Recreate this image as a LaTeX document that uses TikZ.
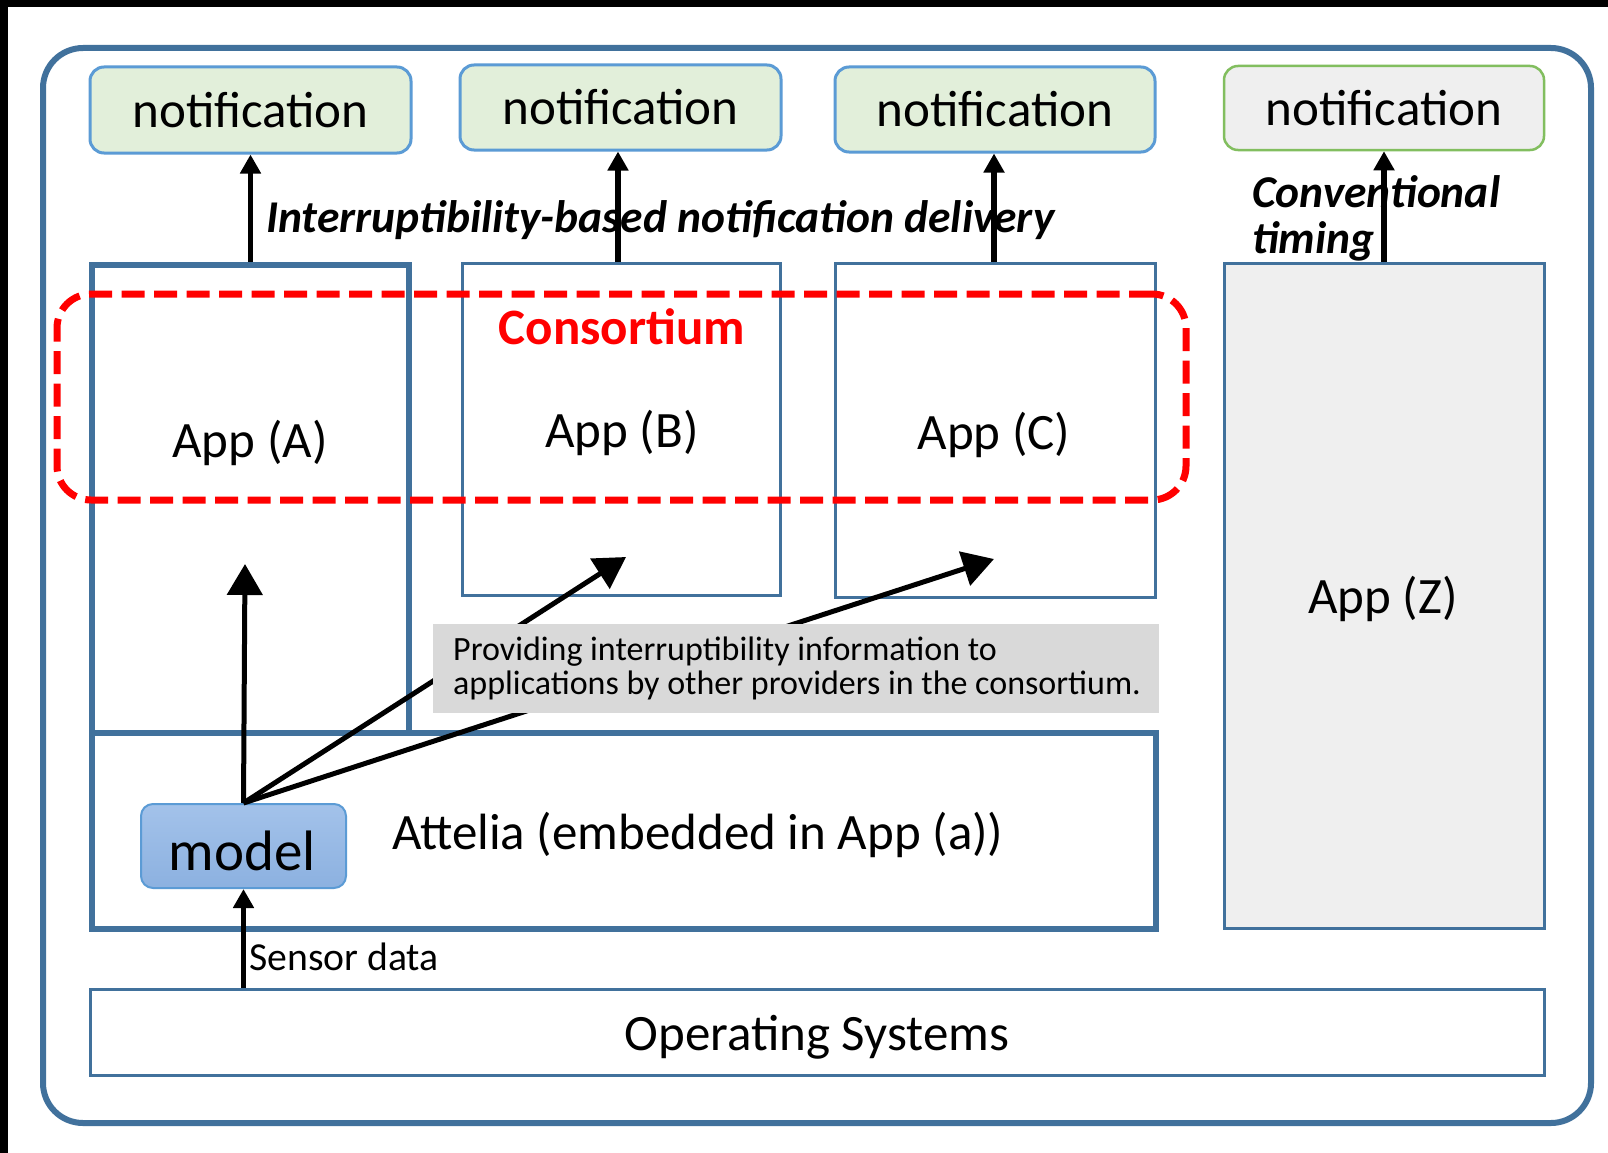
\documentclass[tikz,border=0pt]{standalone}
\usepackage{fontspec}
\setmainfont{Carlito}
\usetikzlibrary{arrows.meta}
\definecolor{frameblue}{RGB}{65,113,156}
\definecolor{lightblue}{RGB}{91,155,213}
\definecolor{notifgreen}{RGB}{226,239,218}
\definecolor{lgray}{RGB}{239,239,239}
\definecolor{greenline}{RGB}{130,190,95}
\definecolor{labelgray}{RGB}{217,217,217}
\definecolor{modeltop}{RGB}{163,194,234}
\definecolor{modelbot}{RGB}{140,177,224}
\begin{document}
\begin{tikzpicture}[x=1pt,y=-1pt,
  big/.style={font=\fontsize{51}{60}\selectfont},
  thickbox/.style={draw=frameblue,line width=6pt,inner sep=0pt},
  thinbox/.style={draw=frameblue,line width=3pt,inner sep=0pt},
  notif/.style={draw=lightblue,fill=notifgreen,line width=3pt,rounded corners=14pt,inner sep=0pt,big},
  notifgray/.style={draw=greenline,fill=lgray,line width=2.5pt,rounded corners=14pt,inner sep=0pt,big},
  smallarrow/.style={line width=5.5pt,-{Triangle[length=19pt,width=20pt]}},
  bigarrow/.style={line width=5pt,-{Triangle[length=31pt,width=35pt]}},
  bilabel/.style={font=\fontsize{45.5}{46}\selectfont\bfseries\itshape,inner sep=0pt}]
\useasboundingbox (0,0) rectangle (1608,1153);
\fill[white] (0,0) rectangle (1608,1153);
\fill[black] (0,0) rectangle (1608,7);
\fill[black] (0,0) rectangle (8,1153);
% outer frame
\node[draw=frameblue,line width=6pt,rounded corners=40pt,minimum width=1548pt,minimum height=1075pt,inner sep=0pt] (outer) at (817,585.5) {};
% notifications
\node[notif,minimum width=321pt,minimum height=86pt] (n1) at (250.5,110) {notification};
\node[notif,minimum width=321pt,minimum height=85pt] (n2) at (620.5,107.5) {notification};
\node[notif,minimum width=320pt,minimum height=85pt] (n3) at (995,109.5) {notification};
\node[notifgray,minimum width=320pt,minimum height=84pt] (n4) at (1384,108) {notification};
% apps
\node[thickbox,minimum width=317pt,minimum height=468pt] (appA) at (250.5,499) {};
\node[thinbox,minimum width=318pt,minimum height=332pt] (appB) at (621.5,429.5) {};
\node[thinbox,minimum width=320pt,minimum height=334pt] (appC) at (995,430) {};
\node[thinbox,fill=lgray,minimum width=320pt,minimum height=665pt] (appZ) at (1384,595.5) {};
\node[thickbox,minimum width=1064pt,minimum height=196pt] (att) at (624,831) {};
\node[thinbox,minimum width=1454pt,minimum height=86pt] (os) at (817,1032) {};
% texts in apps
\node[big,inner sep=0pt] (tA) at (250,443) {App (A)};
\node[big,inner sep=0pt] (tB) at (622,433) {App (B)};
\node[big,inner sep=0pt] (tC) at (994,435) {App (C)};
\node[big,inner sep=0pt] (tZ) at (1383,599) {App (Z)};
\node[big,inner sep=0pt,anchor=west] (tatt) at (392,835) {Attelia (embedded in App (a))};
\node[big,inner sep=0pt] (tos) at (817,1037) {Operating Systems};
% model
\node[draw=lightblue,line width=2pt,rounded corners=12pt,top color=modeltop,bottom color=modelbot,minimum width=205pt,minimum height=84pt,inner sep=0pt,font=\fontsize{57}{64}\selectfont] (model) at (243.5,846) {};
\node[inner sep=0pt,font=\fontsize{57}{64}\selectfont] (tmodel) at (242,851) {model};
% consortium
\node[draw=red,line width=7pt,dash pattern=on 23pt off 9.5pt,rounded corners=34pt,minimum width=1129pt,minimum height=206pt,inner sep=0pt] (cons) at (621.5,397) {};
\node[font=\fontsize{51}{60}\selectfont\bfseries,text=red,inner sep=0pt] (tcons) at (622,327) {Consortium};
% notification arrows
\draw[smallarrow] (appA.north) -- (n1.south);
\draw[smallarrow] (appB.north -| 618,0) -- (n2.south -| 618,0);
\draw[smallarrow] (appC.north -| 994,0) -- (n3.south -| 994,0);
\draw[smallarrow] (appZ.north) -- (n4.south);
% model arrows
\coordinate (endA) at (245,564);
\coordinate (endB) at (626,557);
\coordinate (endC) at (994,559);
\draw[bigarrow] (model.north) -- (endA);
\draw[bigarrow] (model.north) -- (endB);
\draw[bigarrow] (model.north) -- (endC);
% gray label
\node[fill=labelgray,minimum width=726pt,minimum height=89pt,inner sep=0pt] (gl) at (796,668.5) {};
\node[anchor=west,align=left,inner sep=0pt,font=\fontsize{34}{34}\selectfont] (gtext) at (453,668) {Providing interruptibility information to\\applications by other providers in the consortium.};
% sensor
\draw[smallarrow] (os.north -| model.south) -- (model.south);
\node[anchor=west,inner sep=0pt,font=\fontsize{39.7}{44}\selectfont] (sensor) at (249,957) {Sensor data};
% italic labels
\node[bilabel,anchor=west] (deliv) at (266,220) {Interruptibility-based notification delivery};
\node[bilabel,anchor=west,align=left] (conv) at (1252,218) {Conventional\\timing};
\end{tikzpicture}
\end{document}
